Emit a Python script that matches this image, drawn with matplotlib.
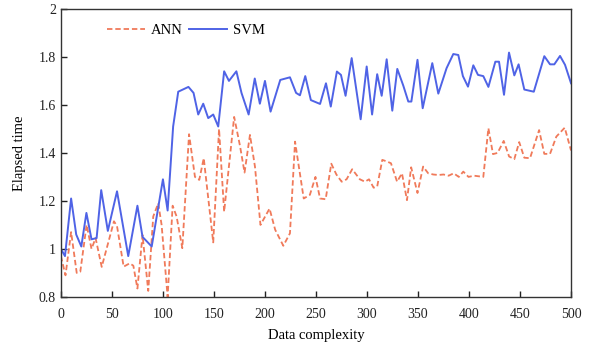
import matplotlib
matplotlib.use("Agg")
from matplotlib import pyplot as plt
from matplotlib.ticker import FuncFormatter

# values
svm_x = [0, 4, 10, 15, 20, 25, 30, 35, 39.5, 46, 55, 66, 75, 80, 89, 100, 104.6,
         110, 115, 120, 125, 130, 134.6, 139.5, 144.4, 149.3, 154.2, 160, 164.7,
         172, 177, 184, 190, 195, 200, 205.5, 215, 224.5, 230.5, 234.3, 239.5, 245,
         254, 259.8, 264.5, 270.5, 274.5, 279, 285, 293.8, 299.7, 305, 310, 314.4,
         319.3, 324.8, 329.7, 335.6, 340.5, 343.5, 349.5, 354.6, 364, 369.9, 378,
         384.6, 389.5, 394, 399, 404.2, 408.8, 414, 419, 425.8, 429.4, 434.3, 439.2,
         444.4, 448.6, 454.2, 463.5, 473.8, 479.4, 483.6, 489.2, 494.1, 500]
svm_y = [1.00, 0.97, 1.21, 1.06, 1.01, 1.15, 1.04, 1.045, 1.245, 1.075, 1.24, 0.97,
         1.18, 1.05, 1.01, 1.29, 1.16, 1.51, 1.655, 1.665, 1.675, 1.65, 1.56, 1.605,
         1.545, 1.56, 1.51, 1.74, 1.70, 1.74, 1.65, 1.56, 1.71, 1.605, 1.70, 1.572,
         1.704, 1.715, 1.65, 1.64, 1.72, 1.62, 1.604, 1.69, 1.593, 1.739, 1.725,
         1.638, 1.795, 1.54, 1.76, 1.56, 1.728, 1.638, 1.79, 1.576, 1.75, 1.68,
         1.614, 1.614, 1.788, 1.586, 1.774, 1.647, 1.753, 1.812, 1.808, 1.72, 1.676,
         1.765, 1.725, 1.72, 1.675, 1.78, 1.78, 1.642, 1.818, 1.723, 1.769, 1.664,
         1.655, 1.803, 1.769, 1.769, 1.804, 1.767, 1.69]

ann_x = [0, 4.5, 10, 15.5, 19, 25.2, 30, 34, 40, 52, 55, 61.5, 67.5, 71, 75, 80,
         85.6, 90.5, 95.4, 98.7, 104.6, 109.5, 113.4, 119, 125.6, 131.4, 135.6, 140,
         149.3, 155, 160, 169.8, 175.5, 180, 185.3, 190.2, 195.6, 204.5, 210, 218,
         224.5, 229.5, 232.7, 238, 244, 249.5, 254, 259.5, 265, 270, 275.2, 280,
         285.5, 293, 298, 302, 306.5, 310, 315, 319, 323.5, 329.5, 334.3, 339.2,
         343.3, 349.5, 355, 360, 365, 370, 375, 380, 385, 390, 394.4, 399.5, 405,
         414, 419, 423.5, 428, 434, 439.3, 444.4, 449.2, 454.2, 459.8, 468.7, 473.8,
         479.4, 485.6, 493.8, 500]
ann_y = [0.97, 0.89, 1.07, 0.90, 0.905, 1.10, 1.00, 1.045, 0.925, 1.115, 1.095,
         0.926, 0.94, 0.93, 0.835, 1.058, 0.825, 1.135, 1.19, 1.10, 0.80, 1.18,
         1.135, 1.003, 1.478, 1.30, 1.2875, 1.378, 1.027, 1.50, 1.155, 1.55, 1.43,
         1.318, 1.475, 1.343, 1.10, 1.168, 1.08, 1.013, 1.065, 1.447, 1.357, 1.21,
         1.225, 1.30, 1.21, 1.207, 1.355, 1.31, 1.28, 1.29, 1.332, 1.29, 1.28, 1.29,
         1.255, 1.26, 1.371, 1.365, 1.357, 1.28, 1.315, 1.203, 1.34, 1.233, 1.343,
         1.315, 1.31, 1.308, 1.31, 1.305, 1.315, 1.30, 1.322, 1.30, 1.305, 1.30,
         1.503, 1.395, 1.40, 1.45, 1.385, 1.374, 1.445, 1.38, 1.378, 1.495, 1.396,
         1.396, 1.468, 1.505, 1.41]

x_ticks = [0, 50, 100, 150, 200, 250, 300, 350, 400, 450, 500]
y_ticks = [0.8, 1.0, 1.2, 1.4, 1.6, 1.8, 2.0]

plt.rcParams['font.family'] = ['Liberation Serif', 'DejaVu Serif']

fig = plt.figure(figsize=(6.03, 3.56), dpi=100)
ax = fig.add_axes([0.101, 0.166, 0.846, 0.809])

ax.plot(ann_x, ann_y, color='#f07a5a', linestyle='--', dashes=(3, 1.6),
        linewidth=1.3, solid_joinstyle='round', label='ANN')
ax.plot(svm_x, svm_y, color='#4f63e6', linewidth=1.4,
        solid_joinstyle='round', label='SVM')

ax.set_xlim(0, 500)
ax.set_ylim(0.8, 2.0)
ax.set_xticks(x_ticks)
ax.set_yticks(y_ticks)
ax.yaxis.set_major_formatter(FuncFormatter(lambda v, p: '%g' % v))
ax.tick_params(direction='in', length=4, width=1, labelsize=10, colors='#222222')
ax.tick_params(axis='x', pad=8)

for s in ax.spines.values():
    s.set_color('#333333')
    s.set_linewidth(1)

ax.set_xlabel('Data complexity', fontsize=10.5, labelpad=6)
ax.set_ylabel('Elapsed time', fontsize=10.5, labelpad=9)

ax.legend(loc='center', bbox_to_anchor=(0.245, 0.925), ncol=2, frameon=False,
          fontsize=10.5, handlelength=2.6, columnspacing=0.4, handletextpad=0.4)

fig.savefig('out.png', dpi=100)
